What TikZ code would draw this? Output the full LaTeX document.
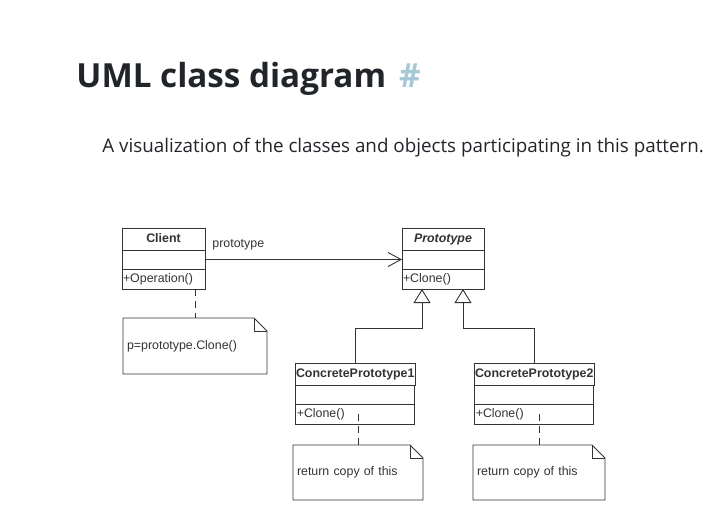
\documentclass[tikz,border=0pt]{standalone}
\usepackage{xcolor}
\usepackage{fontspec}
\setsansfont{Liberation Sans}
\newfontfamily\webfont{Open Sans}
\usetikzlibrary{arrows.meta,positioning}
\definecolor{umlline}{HTML}{333333}
\definecolor{headtext}{HTML}{212529}
\definecolor{hashblue}{RGB}{165,200,212}
\tikzset{
  every picture/.style = {
    x = 1pt,
    y = -1pt,
    line width = 0.9pt,
    node distance = 0pt
  }
  ,
  class-name/.style = {
    rectangle,
    draw = umlline,
    outer sep = 0pt,
    inner sep = 1pt,
    minimum width = #1,
    minimum height = 22pt,
    text height = 9pt,
    text depth = 3pt,
    text = umlline,
    font = \sffamily\bfseries\fontsize{12.4}{14}\selectfont
  }
  , % empty attribute part
  class-attr/.style = {
    rectangle,
    draw = umlline,
    outer sep = 0pt,
    minimum width = #1,
    minimum height = 19pt
  }
  , % operations, left aligned
  class-ops/.style = {
    rectangle,
    draw = umlline,
    outer sep = 0pt,
    inner xsep = 1pt,
    inner ysep = 0pt,
    text width = #1,
    align = left,
    minimum height = 20pt,
    text = umlline,
    font = \sffamily\fontsize{12.4}{14}\selectfont
  }
  ,
  note/.style = {
    rectangle,
    outer sep = 0pt,
    inner xsep = 4pt,
    text width = #1,
    align = left,
    minimum height = 56pt,
    text = umlline,
    font = \sffamily\fontsize{12.4}{14}\selectfont
  }
  , % labels of edges
  label-edge/.style = {
    inner sep = 1pt,
    text = umlline,
    font = \sffamily\fontsize{12.4}{14}\selectfont
  }
  ,
  assoc/.style = {
    draw = umlline,
    -{Straight Barb[length=13pt, width=14pt]}
  }
  ,
  inherit/.style = {
    draw = umlline,
    -{Triangle[open, length=14pt, width=17pt]}
  }
  ,
  anchor-line/.style = {
    draw = umlline,
    dash pattern = on 7pt off 5pt
  }
}
% dog-eared note outline around a named node
\newcommand\drawnote[1]{
  \draw[umlline] (#1.north west) -- ([xshift=-13pt]#1.north east)
    -- ([yshift=-13pt]#1.north east) -- (#1.south east)
    -- (#1.south west) -- cycle;
  \draw[umlline] ([xshift=-13pt]#1.north east) |- ([yshift=-13pt]#1.north east);
}
\begin{document}
\begin{tikzpicture}
\useasboundingbox (0,0) rectangle (715,515);
\fill[white] (0,0) rectangle (715,515);

\node [anchor=base west, inner sep=0pt, text=headtext,
  font=\webfont\bfseries\fontsize{33.2}{38}\selectfont] (title) at (76,87)
  {UML class diagram\hspace{13pt}\textcolor{hashblue}{\#}};
\node [anchor=base west, inner sep=0pt, text=headtext,
  font=\webfont\fontsize{18.8}{23}\selectfont] (subtitle) at (102,152)
  {A visualization of the classes and objects participating in this pattern.};

% classes
\node [class-name=83pt, anchor=north west] (client) at (122,228) {Client};
\node [class-attr=83pt, below = of client] (clientattr) {};
\node [class-ops=81pt, below = of clientattr] (clientops) {+Operation()};

\node [class-name=82pt, anchor=north west, font=\sffamily\bfseries\itshape\fontsize{12.4}{14}\selectfont] (proto) at (402,228) {Prototype};
\node [class-attr=82pt, below = of proto] (protoattr) {};
\node [class-ops=80pt, below = of protoattr] (protoops) {+Clone()};

\node [class-name=119pt, anchor=north west] (cp1) at (295,363) {ConcretePrototype1};
\node [class-attr=119pt, below = of cp1] (cp1attr) {};
\node [class-ops=117pt, below = of cp1attr] (cp1ops) {+Clone()};

\node [class-name=119pt, anchor=north west] (cp2) at (474,363) {ConcretePrototype2};
\node [class-attr=119pt, below = of cp2] (cp2attr) {};
\node [class-ops=117pt, below = of cp2attr] (cp2ops) {+Clone()};

% notes
\node [note=136pt, anchor=north west] (clientnote) at (123,318) {p=prototype.Clone()};
\node [note=122pt, minimum height=55pt, anchor=north west] (cp1note) at (293,445) {return copy of this};
\node [note=124pt, minimum height=55pt, anchor=north west] (cp2note) at (473,445) {return copy of this};
\drawnote{clientnote}
\drawnote{cp1note}
\drawnote{cp2note}

% connectors
\coordinate (tip1) at ([xshift=20pt]protoops.south west);
\coordinate (tip2) at ([xshift=-21pt]protoops.south east);

\path (clientattr.east) edge[assoc] node [label-edge, pos=0, anchor=south west, xshift=6pt, yshift=8pt] {prototype} (protoattr.west);
\draw[inherit] (cp1.north) -- ++(0,-35) -| (tip1);
\draw[inherit] (cp2.north) -- ++(0,-35) -| (tip2);

\draw[anchor-line] (clientnote.north |- clientops.south) -- (clientnote.north);
\draw[anchor-line] (cp1note.north |- cp1ops.center) -- (cp1note.north);
\draw[anchor-line] (cp2note.north |- cp2ops.center) -- (cp2note.north);
\end{tikzpicture}
\end{document}
